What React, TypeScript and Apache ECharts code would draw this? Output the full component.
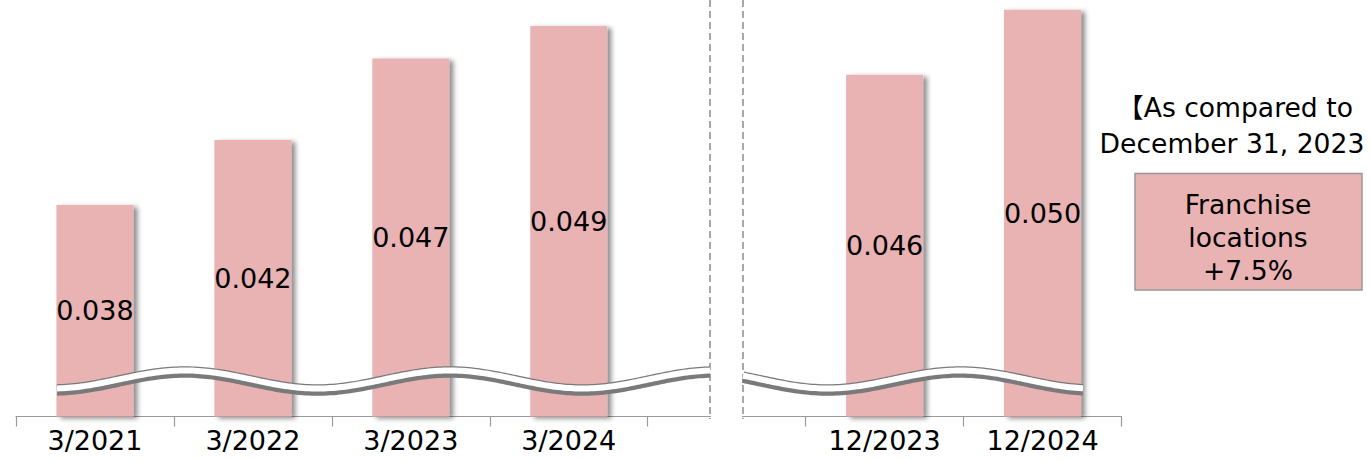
import React, { useEffect, useRef } from "react";
import * as echarts from "echarts";

const categories = ["3/2021", "3/2022", "3/2023", "3/2024", "", "12/2023", "12/2024"];
const values: (number | null)[] = [0.038, 0.042, 0.047, 0.049, null, 0.046, 0.05];
const noteLines = ["【As compared to", "December 31, 2023"];
const boxLines = ["Franchise", "locations", "+7.5%"];

const FONT = "'DejaVu Sans', 'Noto Sans CJK JP', sans-serif";
const BAR = "#E9B2B3";
const GRAY = "#9a9a9a";

function wavePoints(x1: number, x2: number, x0: number, dy: number) {
  const P = 265;
  const amp = 9;
  const mid = 381;
  const pts: number[][] = [];
  for (let x = x1; x <= x2 + 0.01; x += 3) {
    const xx = Math.min(x, x2);
    pts.push([xx, mid - amp * Math.cos((2 * Math.PI * (xx - x0)) / P) + dy]);
  }
  if (pts[pts.length - 1][0] < x2) {
    pts.push([x2, mid - amp * Math.cos((2 * Math.PI * (x2 - x0)) / P) + dy]);
  }
  return pts;
}

function waveEls(x1: number, x2: number, x0: number) {
  return [
    {
      type: "polyline",
      z: 20,
      shape: { points: wavePoints(x1, x2, x0, 0) },
      style: { stroke: "#7a7a7a", lineWidth: 11.5, fill: null, lineCap: "butt" },
    },
    {
      type: "polyline",
      z: 21,
      shape: { points: wavePoints(x1, x2, x0, -1.5) },
      style: { stroke: "#ffffff", lineWidth: 6, fill: null, lineCap: "butt" },
    },
  ];
}

export default function App() {
  const ref = useRef<HTMLDivElement>(null);
  useEffect(() => {
    document.body.style.margin = "0";
    const chart = echarts.init(ref.current!, null, { renderer: "svg" });
    chart.setOption({
      animation: false,
      grid: { left: 16, right: 249.5, top: 0, bottom: 43.5, containLabel: false },
      xAxis: {
        type: "category",
        data: categories,
        axisLine: { show: true, lineStyle: { color: GRAY, width: 1.2 } },
        axisTick: { show: true, length: 10, lineStyle: { color: GRAY, width: 1.2 } },
        axisLabel: { interval: 0, margin: 10, fontSize: 27, fontFamily: FONT, color: "#000" },
      },
      yAxis: {
        type: "value",
        min: 0.025,
        max: 0.0506,
        show: false,
        splitLine: { show: false },
      },
      series: [
        {
          type: "bar",
          data: values,
          barWidth: 77,
          itemStyle: {
            color: BAR,
            shadowColor: "rgba(0,0,0,0.45)",
            shadowBlur: 5,
            shadowOffsetX: 4,
            shadowOffsetY: 2,
          },
          label: {
            show: true,
            position: "inside",
            fontSize: 27,
            fontFamily: FONT,
            color: "#000",
            formatter: (p: any) => (p.value == null ? "" : Number(p.value).toFixed(3)),
          },
        },
      ],
      graphic: [
        {
          type: "rect",
          z: 15,
          shape: { x: 711, y: 411, width: 31, height: 10 },
          style: { fill: "#fff" },
        },
        {
          type: "line",
          z: 16,
          shape: { x1: 710, y1: 0, x2: 710, y2: 419 },
          style: { stroke: "#8c8c8c", lineWidth: 1.5, lineDash: [7, 4] },
        },
        {
          type: "line",
          z: 16,
          shape: { x1: 743, y1: 0, x2: 743, y2: 419 },
          style: { stroke: "#8c8c8c", lineWidth: 1.5, lineDash: [7, 4] },
        },
        ...waveEls(57, 710, 185),
        ...waveEls(743, 1083, 960),
        {
          type: "text",
          z: 30,
          style: {
            text: noteLines[0],
            x: 1235,
            y: 107,
            align: "center",
            verticalAlign: "middle",
            font: `26.6px ${FONT}`,
            fill: "#000",
          },
        },
        {
          type: "text",
          z: 30,
          style: {
            text: noteLines[1],
            x: 1232,
            y: 143,
            align: "center",
            verticalAlign: "middle",
            font: `26.6px ${FONT}`,
            fill: "#000",
          },
        },
        {
          type: "rect",
          z: 30,
          shape: { x: 1135, y: 173.5, width: 227, height: 116.5 },
          style: { fill: BAR, stroke: "#999", lineWidth: 1.5 },
        },
        ...boxLines.map((t, i) => ({
          type: "text",
          z: 31,
          style: {
            text: t,
            x: 1248,
            y: 204 + i * 33,
            align: "center",
            verticalAlign: "middle",
            font: `26.6px ${FONT}`,
            fill: "#000",
          },
        })),
      ],
    });
    return () => chart.dispose();
  }, []);
  return <div ref={ref} style={{ width: 1371, height: 460 }} />;
}
